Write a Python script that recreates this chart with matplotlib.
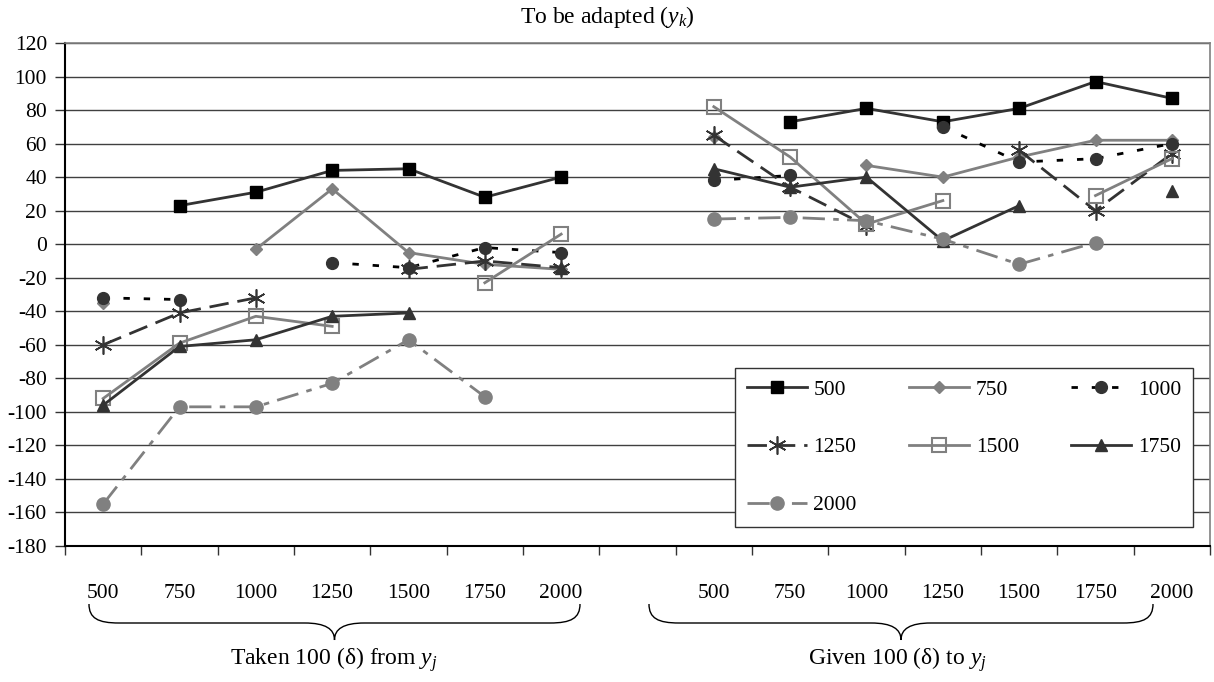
import numpy as np
import matplotlib.pyplot as plt
from matplotlib.path import Path
from matplotlib.patches import PathPatch

plt.rcParams['font.family'] = ['Liberation Serif', 'DejaVu Serif']
plt.rcParams['mathtext.fontset'] = 'custom'
plt.rcParams['mathtext.rm'] = 'Liberation Serif'
plt.rcParams['mathtext.it'] = 'Liberation Serif:italic'
plt.rcParams['axes.unicode_minus'] = False

nan = np.nan
groups = ['500', '750', '1000', '1250', '1500', '1750', '2000']

# Taken 100 (delta) from y_j
taken_500 = [nan, 23, 31, 44, 45, 28, 40]
taken_750 = [-35, nan, -3, 33, -5, -12, -15]
taken_1000 = [-32, -33, nan, -11, -14, -2, -5]
taken_1250 = [-60, -41, -32, nan, -15, -10, -14]
taken_1500 = [-92, -59, -43, -49, nan, -23, 6]
taken_1750 = [-96, -61, -57, -43, -41, nan, -14]
taken_2000 = [-155, -97, -97, -83, -57, -91, nan]

# Given 100 (delta) to y_j
given_500 = [nan, 73, 81, 73, 81, 97, 87]
given_750 = [64, nan, 47, 40, 52, 62, 62]
given_1000 = [38, 41, nan, 70, 49, 51, 60]
given_1250 = [65, 34, 11, nan, 56, 20, 54]
given_1500 = [82, 52, 12, 26, nan, 29, 51]
given_1750 = [45, 34, 40, 2, 23, nan, 32]
given_2000 = [15, 16, 14, 3, -12, 1, nan]

series_names = ['500', '750', '1000', '1250', '1500', '1750', '2000']
taken = [taken_500, taken_750, taken_1000, taken_1250, taken_1500, taken_1750, taken_2000]
given = [given_500, given_750, given_1000, given_1250, given_1500, given_1750, given_2000]

dark = '#333333'
grey = '#808080'
styles = [
    dict(color=dark, ls='-', marker='s', ms=8.5, mfc='black', mec='black'),
    dict(color=grey, ls='-', marker='D', ms=6, mfc=grey, mec=grey),
    dict(color='black', dashes=(2.3, 5), marker='o', ms=8.5, mfc=dark, mec=dark),
    dict(color=dark, dashes=(7, 3.2), marker=(6, 2, 0), ms=13, mec=dark, mew=1.2),
    dict(color=grey, ls='-', marker='s', ms=9.5, mfc='none', mec=grey, mew=1.5),
    dict(color=dark, ls='-', marker='^', ms=8.5, mfc=dark, mec=dark),
    dict(color=grey, dashes=(8, 3, 2, 3), marker='o', ms=9.5, mfc=grey, mec=grey),
]

fs = 15.5       # ticks and legend
fs_cap = 17     # title and group captions
fig = plt.figure(figsize=(12.14, 6.82), dpi=100)
W, H = 1214, 682
ax = fig.add_axes([65 / W, 1 - 546 / H, (1210 - 65) / W, 503 / H])

x = np.arange(15)
handles = []
for name, t, g, st in zip(series_names, taken, given, styles):
    y = np.array(t + [nan] + g, dtype=float)
    h, = ax.plot(x, y, lw=2, label=name, **st)
    handles.append(h)

ax.set_xlim(-0.5, 14.5)
ax.set_ylim(-180, 120)
ax.set_yticks(np.arange(-180, 121, 20))
ax.set_yticklabels([str(v) for v in range(-180, 121, 20)])
ax.yaxis.grid(True, color='#404040', lw=1)
ax.set_axisbelow(True)

ax.set_xticks(np.arange(-0.5, 15, 1))
ax.set_xticklabels([])
centers = [i for i in range(15) if i != 7]
ax.set_xticks(centers, minor=True)
ax.set_xticklabels(groups + groups, minor=True)
ax.tick_params(axis='x', which='major', direction='out', length=6.5, width=1, color=dark)
ax.tick_params(axis='x', which='minor', length=0, pad=27, labelsize=fs)
ax.tick_params(axis='y', direction='out', length=7, width=1, pad=6, labelsize=fs, color=dark)

for s in ['left', 'bottom']:
    ax.spines[s].set_color('black')
    ax.spines[s].set_linewidth(1.5)
for s in ['top', 'right']:
    ax.spines[s].set_color(grey)
    ax.spines[s].set_linewidth(1.2)

# legend laid out row by row like the original
order = [0, 3, 6, 1, 4, 2, 5]
leg = ax.legend([handles[i] for i in order], [series_names[i] for i in order],
                ncol=3, loc='lower left', bbox_to_anchor=(0.585, 0.038, 0.4, 0.318),
                mode='expand', borderaxespad=0, fontsize=fs, handlelength=2.8,
                handletextpad=0.3, labelspacing=1.75, borderpad=0.55,
                fancybox=False, framealpha=1, edgecolor=dark)
leg.get_frame().set_linewidth(1)

# overlay for title, braces and group captions (pixel coordinates)
ov = fig.add_axes([0, 0, 1, 1], zorder=-1)
ov.set_xlim(0, W)
ov.set_ylim(H, 0)
ov.axis('off')


def brace(x0, x1, ytop, ymid, ytip, r=30):
    xc = (x0 + x1) / 2
    hv = ytop + 0.75 * (ymid - ytop)
    tv = ymid + 0.35 * (ytip - ymid)
    verts = [(x0, ytop), (x0, hv), (x0 + 0.3 * r, ymid), (x0 + r, ymid),
             (xc - r, ymid),
             (xc - 0.3 * r, ymid), (xc, tv), (xc, ytip),
             (xc, tv), (xc + 0.3 * r, ymid), (xc + r, ymid),
             (x1 - r, ymid),
             (x1 - 0.3 * r, ymid), (x1, hv), (x1, ytop)]
    codes = [Path.MOVETO] + [Path.CURVE4] * 3 + [Path.LINETO] + [Path.CURVE4] * 6 + \
            [Path.LINETO] + [Path.CURVE4] * 3
    ov.add_patch(PathPatch(Path(verts, codes), fill=False, ec='black', lw=1))


brace(89, 580, 604, 623, 640)
brace(649, 1153, 604, 623, 640)
ov.text(334, 665, 'Taken 100 (δ) from $y_j$', ha='center', va='baseline', fontsize=fs_cap)
ov.text(897, 665, 'Given 100 (δ) to $y_j$', ha='center', va='baseline', fontsize=fs_cap)
ov.text(607, 23, 'To be adapted ($y_k$)', ha='center', va='baseline', fontsize=fs_cap)

fig.savefig('out.png', dpi=100)
